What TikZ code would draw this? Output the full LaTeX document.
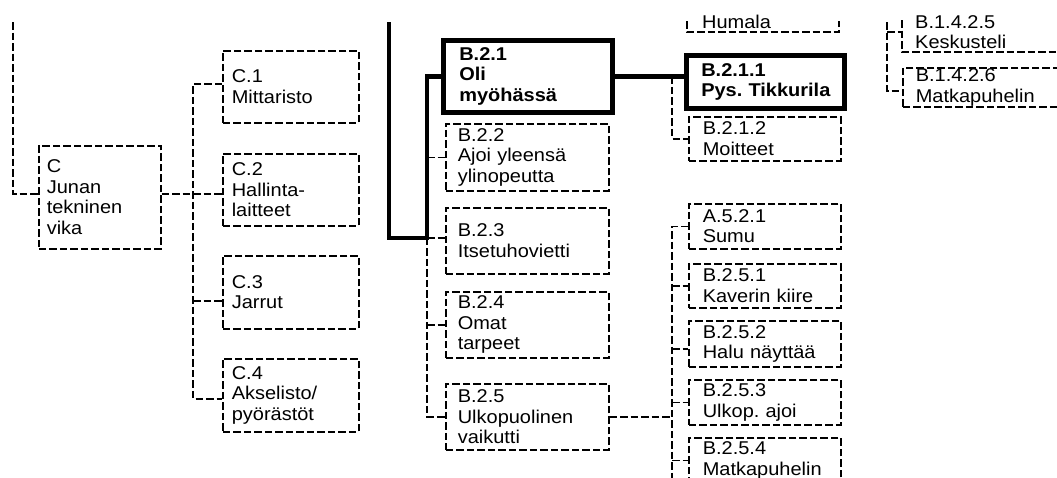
\documentclass[tikz,border=0pt]{standalone}
\usepackage{fontspec}
\setmainfont{Liberation Sans}[FakeStretch=1.08]
\frenchspacing
\begin{document}
\begin{tikzpicture}[x=1pt,y=-1pt,
  dl/.style={line width=1.6pt, dash pattern=on 7.5pt off 3pt},
  thk/.style={line width=4.6pt},
  fs/.style={font=\fontsize{18.5}{20.5}\selectfont},
  bx/.style={draw, dl, anchor=north west, align=left, inner ysep=0pt, fs},
  tb/.style={draw, thk, anchor=north west, align=left, inner ysep=0pt, font=\fontsize{18.5}{20.5}\selectfont\bfseries},
  sz/.style n args={4}{minimum width=#1pt, minimum height=#2pt, inner xsep=#3pt, text width=#4pt},
  txt/.style={anchor=north west, inner sep=0pt, align=left, fs}
]
\clip (0,0) rectangle (1057,477);
\fill[white] (0,0) rectangle (1057,477);

% ---- C group
\node[bx, sz={122}{103}{8}{106}] (C) at (38,145) {C\\Junan\\tekninen\\vika};
\node[bx, sz={136}{72}{9}{118}] (C1) at (222,50) {C.1\\Mittaristo};
\node[bx, sz={136}{72}{9}{118}] (C2) at (222,153) {C.2\\Hallinta-\\laitteet};
\node[bx, sz={136}{73}{9}{118}] (C3) at (222,255) {C.3\\Jarrut};
\node[bx, sz={136}{73}{9}{118}] (C4) at (222,358) {C.4\\Akselisto/\\pyörästöt};

% ---- B.2 group
\node[tb, sz={169}{72}{16}{137}] (B21) at (441,38) {B.2.1\\Oli\\myöhässä};
\node[bx, sz={163}{67}{12}{139}] (B22) at (445,123) {B.2.2\\Ajoi yleensä\\ylinopeutta};
\node[bx, sz={163}{66}{12}{139}] (B23) at (445,207) {B.2.3\\Itsetuhovietti};
\node[bx, sz={163}{66}{12}{139}] (B24) at (445,291) {B.2.4\\Omat\\tarpeet};
\node[bx, sz={163}{66}{12}{139}] (B25) at (445,383) {B.2.5\\Ulkopuolinen\\vaikutti};

% ---- right column
\node[tb, sz={158}{53}{15}{128}] (B211) at (684,53) {B.2.1.1\\\mbox{Pys. Tikkurila}};
\node[bx, sz={152}{44}{14}{124}] (B212) at (688,116) {B.2.1.2\\Moitteet};
\node[bx, sz={152}{45}{14}{124}] (A521) at (688,203) {A.5.2.1\\Sumu};
\node[bx, sz={152}{44}{14}{124}] (B251) at (688,263) {B.2.5.1\\Kaverin kiire};
\node[bx, sz={152}{46}{14}{124}] (B252) at (688,320) {B.2.5.2\\Halu näyttää};
\node[bx, sz={152}{45}{14}{124}] (B253) at (688,379) {B.2.5.3\\Ulkop. ajoi};
\node[bx, sz={152}{45}{14}{124}] (B254) at (688,437) {B.2.5.4\\Matkapuhelin};

% ---- partial boxes at top
\node[txt] (hum) at (702,15) {Humala};
\draw[dl] (687,21) |- (839,32) -- (839,21);
\node[txt] (kes) at (915,15) {B.1.4.2.5\\Keskusteli};
\draw[dl] (902,20) |- (1070,52);
\node[bx, sz={180}{39}{13}{154}] (B1426) at (902,67) {B.1.4.2.6\\Matkapuhelin};

% ---- coordinates
\coordinate (ctop) at (13,22);
\coordinate (cbus) at (193,0);
\coordinate (cin) at ([yshift=3.5pt]C.west);
\coordinate (cout) at ([yshift=3.5pt]C.east);
\coordinate (c1in) at ([yshift=3pt]C1.west);
\coordinate (c3in) at ([yshift=-8.5pt]C3.west);
\coordinate (c4in) at ([yshift=-3.5pt]C4.west);
\coordinate (btop) at (389,22);
\coordinate (bbus) at (427,0);
\coordinate (b3in) at ([yshift=3pt]B23.west);
\coordinate (rb) at (672,0);
\coordinate (rbot) at (672,490);
\coordinate (b252in) at ([yshift=-5pt]B252.west);
\coordinate (fbtop) at (887,22);
\coordinate (kin) at (902,32);
\coordinate (m6in) at ([yshift=-3.5pt]B1426.west);

% ---- C connectors
\draw[dl] (ctop) |- (cin);
\draw[dl] (cout) -- (cout -| C2.west);
\draw[dl] (c1in) -| (cbus |- c4in) -- (c4in);
\draw[dl] (cbus |- c3in) -- (c3in);

% ---- B connectors
\draw[dl] (bbus |- b3in) |- (B25.west);
\draw[dl] (bbus |- B22.west) -- (B22.west);
\draw[dl] (bbus |- b3in) -- (b3in);
\draw[dl] (bbus |- B24.west) -- (B24.west);

% ---- right connectors
\draw[dl] (rb |- B21.east) |- (B212.west);
\draw[dl] (B25.east) -- (B25.east -| rb);
\draw[dl] (A521.west) -| (rbot);
\draw[dl] (rb |- B251.west) -- (B251.west);
\draw[dl] (rb |- b252in) -- (b252in);
\draw[dl] (rb |- B253.west) -- (B253.west);
\draw[dl] (rb |- B254.west) -- (B254.west);

% ---- far right
\draw[dl] (fbtop) |- (m6in);
\draw[dl] (fbtop |- kin) -- (kin);

% ---- thick path
\draw[thk] (btop) |- (bbus |- b3in) |- (B21.west);
\draw[thk] (B21.east) -- (B21.east -| B211.west);
\end{tikzpicture}
\end{document}
